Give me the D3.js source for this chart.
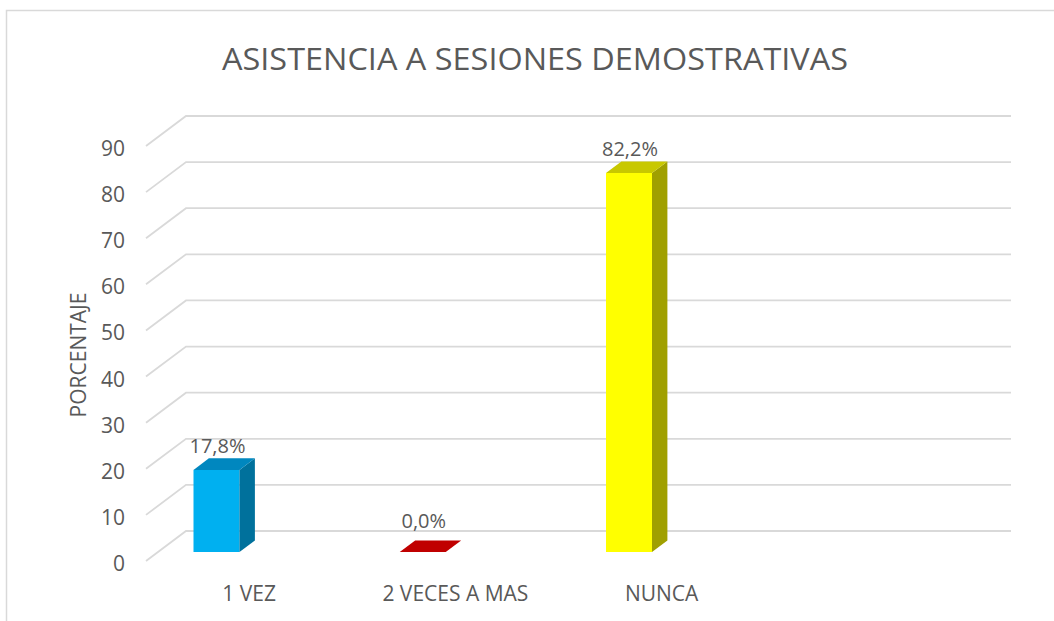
<!DOCTYPE html>
<html>
<head>
<meta charset="utf-8">
<script src="https://cdn.jsdelivr.net/npm/d3@7"></script>
<style>
  body { margin: 0; background: #fff; }
  text { font-family: "Open Sans", "Noto Sans", sans-serif; fill: #595959; }
</style>
</head>
<body>
<svg id="chart" width="1054" height="621"></svg>
<script>
// data
var categories = ["1 VEZ", "2 VECES A MAS", "NUNCA", ""];
var values = [17.8, 0.0, 82.2, null];
var labels = ["17,8%", "0,0%", "82,2%", ""];
var ticks = [0, 10, 20, 30, 40, 50, 60, 70, 80, 90];
var colors = [
  {front: "#00B0F0", top: "#0087BF", side: "#00719C"},
  {front: "#FF0000", top: "#C00000", side: "#9A0000"},
  {front: "#FFFF00", top: "#C8C800", side: "#A0A000"}
];

var svg = d3.select("#chart");

// 3d offsets: back wall vs front plane
var DX = 40, DY = 30;
var frontDepth = 0.7, barDepth = 0.385; // front face of bars / bar thickness, in wall-depth units

var yBack = d3.scaleLinear().domain([0, 90]).range([531, 116]);
var xBack = d3.scaleBand().domain(categories).range([186, 1011]);

// chart border
svg.append("rect")
  .attr("x", 6.5).attr("y", 10.5)
  .attr("width", 1100).attr("height", 700)
  .attr("fill", "none").attr("stroke", "#d9d9d9").attr("stroke-width", 1.5);

// title
svg.append("text")
  .attr("x", 535).attr("y", 58)
  .attr("text-anchor", "middle").attr("dominant-baseline", "central")
  .attr("font-size", 31)
  .attr("textLength", 626).attr("lengthAdjust", "spacingAndGlyphs")
  .text("ASISTENCIA A SESIONES DEMOSTRATIVAS");

// gridlines
var grid = svg.append("g").attr("stroke", "#d9d9d9").attr("stroke-width", 1.8).attr("fill", "none");
grid.selectAll("path").data(ticks).enter().append("path")
  .attr("d", function(t) {
    var y = yBack(t);
    return "M" + (186 - DX) + "," + (y + DY) + "L186," + y + "L1011," + y;
  });

// tick labels
svg.append("g").selectAll("text").data(ticks).enter().append("text")
  .attr("x", 125).attr("y", function(t) { return yBack(t) + DY + 2; })
  .attr("text-anchor", "end").attr("dominant-baseline", "central")
  .attr("font-size", 21)
  .text(function(t) { return t; });

// axis title
svg.append("text")
  .attr("transform", "translate(78,355) rotate(-90)")
  .attr("text-anchor", "middle").attr("dominant-baseline", "central")
  .attr("font-size", 21)
  .text("PORCENTAJE");

// category labels on the front plane
svg.append("g").selectAll("text").data(categories).enter().append("text")
  .attr("x", function(c) { return xBack(c) + xBack.bandwidth() / 2 - DX; })
  .attr("y", 593)
  .attr("text-anchor", "middle").attr("dominant-baseline", "central")
  .attr("font-size", 21)
  .text(function(c) { return c; });

// bars
var bw = 46;
var ddx = DX * barDepth, ddy = DY * barDepth;
var bars = svg.append("g");
categories.forEach(function(c, i) {
  var v = values[i];
  if (v === null) return;
  var x0 = xBack(c) + 35.5 - DX * frontDepth;
  var yb = yBack(0) + DY * frontDepth;
  var yt = yBack(v) + DY * frontDepth;
  var col = colors[i];
  if (v > 0) {
    bars.append("rect")
      .attr("x", x0).attr("y", yt).attr("width", bw).attr("height", yb - yt)
      .attr("fill", col.front);
    bars.append("polygon")
      .attr("points", [[x0 + bw, yt], [x0 + bw + ddx, yt - ddy], [x0 + bw + ddx, yb - ddy], [x0 + bw, yb]].join(" "))
      .attr("fill", col.side);
  }
  bars.append("polygon")
    .attr("points", [[x0, yt], [x0 + bw, yt], [x0 + bw + ddx, yt - ddy], [x0 + ddx, yt - ddy]].join(" "))
    .attr("fill", col.top);

  svg.append("text")
    .attr("x", x0 + bw / 2 + 1).attr("y", yt - ddy - (v > 0 ? 13 : 20))
    .attr("text-anchor", "middle").attr("dominant-baseline", "central")
    .attr("font-size", 20)
    .text(labels[i]);
});
</script>
</body>
</html>
